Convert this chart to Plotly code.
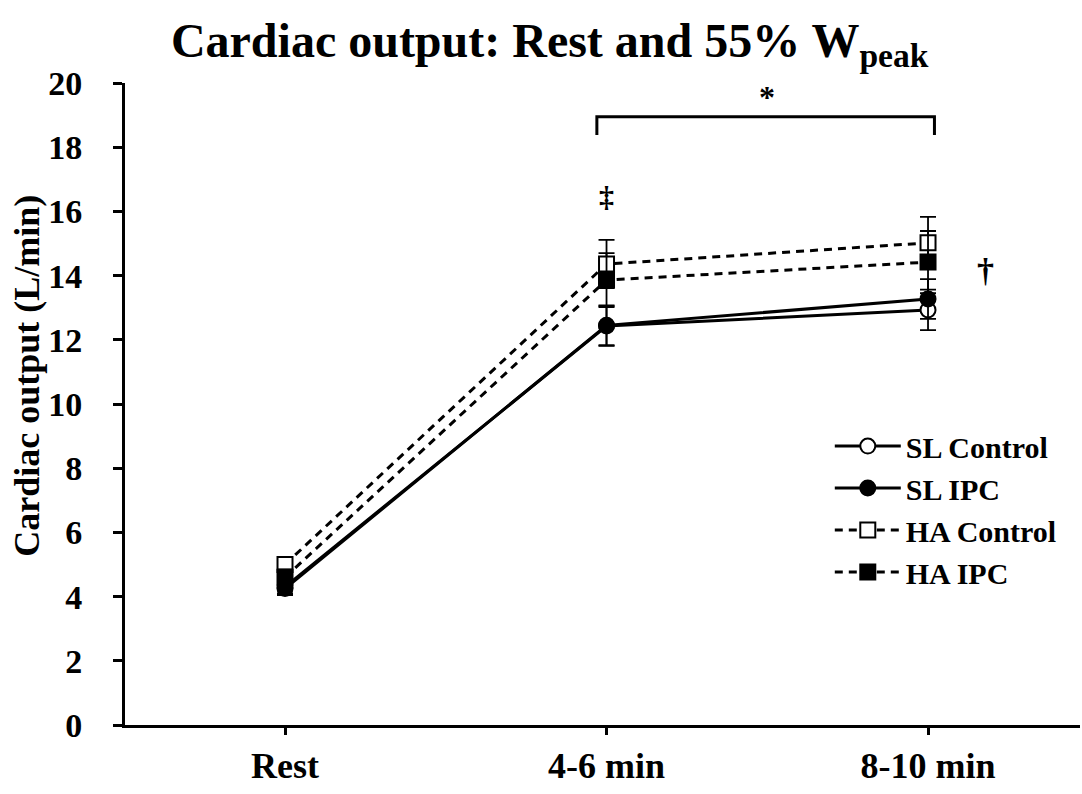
import plotly.graph_objects as go

# data
phases = ["Rest", "4-6 min", "8-10 min"]
phase_pos = [0, 1, 2]

sl_control = [4.3, 12.43, 12.93]
sl_control_err = [0.2, 0.62, 0.63]
sl_ipc = [4.25, 12.45, 13.27]
sl_ipc_err = [0.2, 0.62, 0.62]
ha_control = [5.0, 14.36, 15.02]
ha_control_err = [0.2, 0.75, 0.81]
ha_ipc = [4.6, 13.86, 14.42]
ha_ipc_err = [0.25, 0.84, 0.97]

FONT = "Liberation Serif, Times New Roman, serif"

series = [
    ("SL Control", sl_control, sl_control_err, "solid", "circle", "white"),
    ("SL IPC", sl_ipc, sl_ipc_err, "solid", "circle", "black"),
    ("HA Control", ha_control, ha_control_err, "dash", "square", "white"),
    ("HA IPC", ha_ipc, ha_ipc_err, "dash", "square", "black"),
]

fig = go.Figure()

for name, vals, errs, dash, symbol, fill in series:
    fig.add_trace(go.Scatter(
        x=phase_pos,
        y=vals,
        mode='lines+markers',
        name=name,
        line=dict(color='black', width=3, dash='8px,6px' if dash == 'dash' else 'solid'),
        marker=dict(symbol=symbol, size=15, color=fill, line=dict(color='black', width=2)),
        error_y=dict(type='data', array=errs, visible=True, color='black', thickness=1.8, width=8),
    ))

# significance bracket and symbols
fig.add_shape(type='path', path='M 0.97,18.38 L 0.97,18.95 L 2.02,18.95 L 2.02,18.38',
              line=dict(color='black', width=3), xref='x', yref='y')
fig.add_annotation(x=1.5, y=19.55, text="<b>*</b>", showarrow=False,
                   font=dict(family=FONT, size=32, color='black'))
fig.add_annotation(x=1.0, y=16.45, text="<b>‡</b>", showarrow=False,
                   font=dict(family=FONT, size=30, color='black'))
fig.add_annotation(x=2.18, y=14.17, text="<b>†</b>", showarrow=False,
                   font=dict(family=FONT, size=34, color='black'))

# y-axis title
fig.add_annotation(x=-0.1026, y=0.544, xref='paper', yref='paper', xanchor='center', yanchor='middle',
                   text="<b>Cardiac output (L/min)</b>", textangle=-90, showarrow=False,
                   font=dict(family=FONT, size=36, color='black'))

fig.update_layout(
    title=dict(text="<b>Cardiac output: Rest and 55% W<sub>peak</sub></b>",
               x=0.508, xanchor='center', y=0.95, yanchor='middle', yref='container',
               font=dict(family=FONT, size=48, color='black')),
    width=1082,
    height=794,
    margin=dict(l=125, r=2, t=83, b=69),
    paper_bgcolor='white',
    plot_bgcolor='white',
    font=dict(family=FONT, color='black'),
    showlegend=True,
    legend=dict(x=0.738, y=0.475, xanchor='left', yanchor='top', itemwidth=66,
                font=dict(family=FONT, size=30, color='black', weight='bold'),
                bgcolor='rgba(0,0,0,0)', tracegroupgap=0),
)

fig.update_xaxes(
    range=[-0.4977, 2.4727], tickvals=phase_pos, ticktext=["<b>%s</b>" % p for p in phases],
    showline=True, linecolor='black', linewidth=3, ticks='outside', ticklen=7, tickwidth=3,
    tickcolor='black', showgrid=False, zeroline=False,
    tickfont=dict(family=FONT, size=36, color='black'),
)
fig.update_yaxes(
    range=[0, 20], dtick=2, tickformat='d',
    showline=True, linecolor='black', linewidth=3, ticks='outside', ticklen=9, tickwidth=3,
    tickcolor='black', showgrid=False, zeroline=False, ticklabelstandoff=24,
    tickfont=dict(family=FONT, size=34, color='black', weight='bold'),
)

# drop the browser's default page margin so the figure sits at 0,0
fig.write_html("out.html", config={'displayModeBar': False},
               post_script="document.body.style.margin='0';")
